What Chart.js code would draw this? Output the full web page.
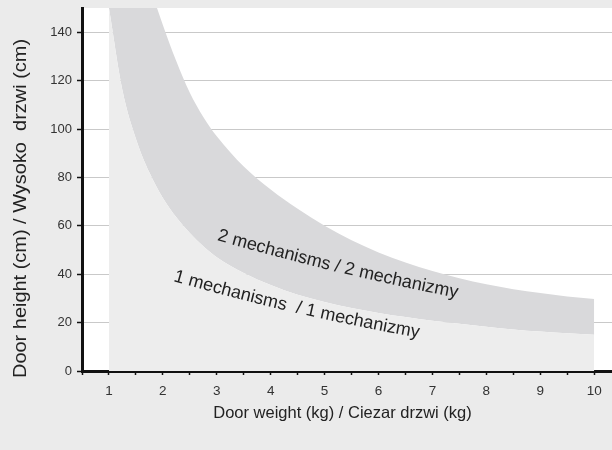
<!DOCTYPE html>
<html>
<head>
<meta charset="utf-8">
<script src="https://cdn.jsdelivr.net/npm/chart.js@4"></script>
<style>
  html, body { margin: 0; padding: 0; background: #ebebeb; }
  #wrap { width: 612px; height: 450px; }
</style>
</head>
<body>
<div id="wrap"><canvas id="doorChart" width="612" height="450"></canvas></div>
<script>
const weights = [1, 1.25, 1.5, 1.75, 2, 2.25, 2.5, 2.75, 3, 3.5, 4, 4.5, 5, 5.5, 6, 6.5, 7, 7.5, 8, 8.5, 9, 9.5, 10];
// lower edge of band - 1 mechanism (door height, cm)
const oneMech = [150, 116, 96, 82, 71.5, 63.5, 57, 51.5, 47, 40.5, 35.5, 31.5, 28.5, 26, 24, 22.3, 20.8, 19.5, 18.3, 17.2, 16.3, 15.6, 15];
// upper edge of band - 2 mechanisms (door height, cm)
const twoMech = [260, 215, 182, 160, 143, 128, 115, 105, 97, 84.5, 75, 67, 60, 54, 49, 44.8, 41.3, 38.3, 35.8, 33.8, 32.2, 30.8, 29.8];

const xTicks = [0.5, 1, 1.5, 2, 2.5, 3, 3.5, 4, 4.5, 5, 5.5, 6, 6.5, 7, 7.5, 8, 8.5, 9, 9.5, 10];
const yTicks = [0, 20, 40, 60, 80, 100, 120, 140];

// curve labels: start point (data units) and start / end angle in degrees
const bandLabels = ['2 mechanisms / 2 mechanizmy', '1 mechanisms  / 1 mechanizmy'];
const labelX = [3.0, 2.19];
const labelY = [54.1, 37.2];
const labelAngles = [[16, 11], [16, 10]];

const xTitle = 'Door weight (kg) / Ciezar drzwi (kg)';
const yTitle = 'Door height (cm) / Wysoko  drzwi (cm)';

const fontFamily = 'Helvetica, "Liberation Sans", Arial, sans-serif';
const inkColor = '#222';

function pts(ys) {
    return weights.map((w, i) => ({ x: w, y: ys[i] }));
}

// draw text char by char, angle drifting from a0 to a1
function drawBentText(ctx, text, x0, y0, a0, a1) {
    const total = ctx.measureText(text).width;
    let x = x0, y = y0, run = 0;
    for (const ch of text) {
        const w = ctx.measureText(ch).width;
        const t = (run + w / 2) / total;
        const ang = (a0 + (a1 - a0) * t) * Math.PI / 180;
        ctx.save();
        ctx.translate(x, y);
        ctx.rotate(ang);
        ctx.fillText(ch, 0, 0);
        ctx.restore();
        x += w * Math.cos(ang);
        y += w * Math.sin(ang);
        run += w;
    }
}

const paperBg = {
    id: 'paperBg',
    beforeDraw(chart) {
        const { ctx, chartArea: a } = chart;
        ctx.save();
        ctx.fillStyle = '#ebebeb';
        ctx.fillRect(0, 0, chart.width, chart.height);
        ctx.fillStyle = '#ffffff';
        ctx.fillRect(a.left, a.top, a.right - a.left, a.bottom - a.top);
        ctx.restore();
    }
};

const textLayer = {
    id: 'textLayer',
    afterDraw(chart) {
        const { ctx, scales } = chart;
        ctx.save();
        ctx.fillStyle = inkColor;
        ctx.textBaseline = 'alphabetic';
        ctx.textAlign = 'left';

        // labels along the band
        ctx.font = '18px ' + fontFamily;
        bandLabels.forEach((txt, i) => {
            const px = scales.x.getPixelForValue(labelX[i]);
            const py = scales.y.getPixelForValue(labelY[i]);
            drawBentText(ctx, txt, px, py, labelAngles[i][0], labelAngles[i][1]);
        });

        // x axis title
        ctx.font = '16.5px ' + fontFamily;
        ctx.textAlign = 'center';
        ctx.fillText(xTitle, 342.5, 418);

        // y axis title (stretched like the original)
        ctx.font = '17.5px ' + fontFamily;
        ctx.textAlign = 'left';
        ctx.save();
        ctx.translate(25.5, 378);
        ctx.rotate(-Math.PI / 2);
        ctx.scale(1.14, 1);
        ctx.fillText(yTitle, 0, 0);
        ctx.restore();

        ctx.restore();
    }
};

new Chart(document.getElementById('doorChart'), {
    type: 'line',
    data: {
        datasets: [{
            label: '1 mechanism',
            data: pts(oneMech),
            borderWidth: 0,
            pointRadius: 0,
            backgroundColor: '#ededed',
            fill: 'origin',
            cubicInterpolationMode: 'monotone'
        }, {
            label: '2 mechanisms',
            data: pts(twoMech),
            borderWidth: 0,
            pointRadius: 0,
            backgroundColor: '#d9d9db',
            fill: '-1',
            cubicInterpolationMode: 'monotone'
        }]
    },
    options: {
        responsive: false,
        animation: false,
        layout: { padding: { top: 8, left: 0, right: 0, bottom: 0 } },
        plugins: {
            legend: { display: false },
            tooltip: { enabled: false }
        },
        scales: {
            x: {
                type: 'linear',
                min: 0.5,
                max: 10.33,
                z: 1,
                afterBuildTicks: s => { s.ticks = xTicks.map(v => ({ value: v })); },
                afterFit: s => { s.height = 79; s.paddingLeft = 0; s.paddingRight = 0; },
                grid: { drawOnChartArea: false, tickColor: '#111', tickLength: 4, tickWidth: 1.5 },
                border: { color: '#111', width: 3 },
                ticks: {
                    autoSkip: false,
                    maxRotation: 0,
                    padding: 8,
                    color: '#333',
                    font: { family: fontFamily, size: 13.5 },
                    callback: v => Number.isInteger(v) ? v : ''
                }
            },
            y: {
                min: 0,
                max: 150,
                z: 1,
                afterBuildTicks: s => { s.ticks = yTicks.map(v => ({ value: v })); },
                afterFit: s => { s.width = 82; s.paddingTop = 0; s.paddingBottom = 0; },
                grid: {
                    color: c => (c.tick && c.tick.value === 0) ? 'rgba(0,0,0,0)' : '#c9c9c9',
                    lineWidth: 1,
                    tickColor: '#111',
                    tickLength: 5,
                    tickWidth: 1.5
                },
                border: { color: '#111', width: 3 },
                ticks: {
                    padding: 5,
                    color: '#333',
                    font: { family: fontFamily, size: 13 }
                }
            }
        }
    },
    plugins: [paperBg, textLayer]
});
</script>
</body>
</html>
